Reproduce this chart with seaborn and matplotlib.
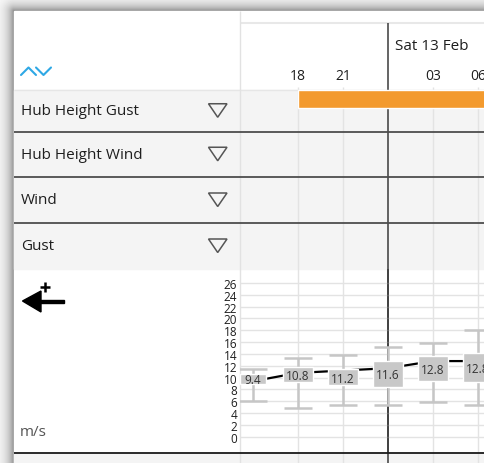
import numpy as np
import matplotlib.pyplot as plt
from matplotlib.patches import Rectangle, Polygon
import seaborn as sns

# forecast columns, hour of day (24 = midnight, Sat 13 Feb)
hours = [15, 18, 21, 24, 27, 30]
wind = [9.4, 10.8, 11.2, 11.6, 12.8, 12.8]
box_low = [8.9, 9.2, 8.7, 8.5, 9.4, 9.2]
box_high = [10.6, 11.8, 11.4, 12.8, 13.6, 14.1]
gust_low = [6.0, 4.9, 5.3, 5.4, 5.8, 5.3]
gust_high = [11.5, 13.4, 13.8, 15.1, 15.9, 18.1]

grid_hours = [18, 21, 27, 30]
hour_labels = ['18', '21', '03', '06']
day_label = 'Sat 13 Feb'
day_start = 24
warning_start = 18
row_names = ['Hub Height Gust', 'Hub Height Wind', 'Wind', 'Gust']
unit = 'm/s'

sns.set_style('white')
plt.rcParams['font.family'] = ['Open Sans', 'DejaVu Sans']

W, H = 485, 464
PX, PY = 14, 12          # panel corner
DIV = 240                # left column / timeline divider
row_edges = [91, 132.5, 178, 224, 270]
CHART_BOTTOM = 453.5
xlim = (15 - 13 / 15, 15 + 232 / 15)   # 15 px per hour

fig = plt.figure(figsize=(W / 100, H / 100), dpi=100)


def px_axes(x0, y0, x1, y1, z):
    ax = fig.add_axes([x0 / W, 1 - y1 / H, (x1 - x0) / W, (y1 - y0) / H], zorder=z)
    ax.patch.set_alpha(0)
    return ax


# background layer (pixel coords)
ax_bg = px_axes(0, 0, W, H, 0)
ax_bg.set_xlim(0, W)
ax_bg.set_ylim(H, 0)
ax_bg.axis('off')
yy, xx = np.mgrid[0:H, 0:W] + 0.5
d = np.hypot(np.clip(PX - xx, 0, None), np.clip(PY - yy, 0, None))
shadow = 1 - 0.45 * np.exp(-d / 7)
ax_bg.imshow(shadow, cmap='gray', vmin=0, vmax=1, extent=(0, W, H, 0),
             aspect='auto', interpolation='nearest')
ax_bg.add_patch(Rectangle((PX, PY), W - PX, H - PY, color='white'))
ax_bg.add_patch(Rectangle((PX, row_edges[0]), W - PX, row_edges[-1] - row_edges[0], color='#f4f4f4'))
ax_bg.add_patch(Rectangle((PX, CHART_BOTTOM), W - PX, H - CHART_BOTTOM, color='#f4f4f4'))
ax_bg.hlines(23.5, DIV, W, color='#e8e8e8', lw=1.5)
ax_bg.hlines(row_edges[0], PX, W, color='#e6e6e6', lw=1)
ax_bg.vlines(DIV, PY, H, color='#e2e2e2', lw=1)

# timeline layer: hours on x, pixels on y
ax_time = px_axes(DIV, PY, W, H, 1)
ax_time.set_xlim(xlim)
ax_time.set_ylim(H, PY)
ax_time.axis('off')
ax_time.vlines(grid_hours, 88, H, color='#e3e3e3', lw=1)
ax_time.vlines(day_start, 24, H, color='#3a3a3a', lw=1.1)
ax_time.barh(100, 40, left=warning_start, height=18, color='#f39a2e', zorder=3)
for h, lab in zip(grid_hours, hour_labels):
    ax_time.text(h, 77, lab, ha='center', va='center', fontsize=10, color='#1e1e1e')
ax_time.text(day_start + 0.5, 47, day_label, ha='left', va='center', fontsize=11, color='#1e1e1e')

# wind chart
ax = px_axes(DIV, row_edges[-1], W, CHART_BOTTOM, 2)
ax.set_xlim(xlim)
ax.set_ylim(-2.66, 28.37)
ax.grid(axis='y', color='#e3e3e3', lw=1)
ax.set_axisbelow(True)
ax.axvline(day_start, color='#3a3a3a', lw=1.1, zorder=1.5)
lo_err = [w - g for w, g in zip(wind, gust_low)]
hi_err = [g - w for w, g in zip(wind, gust_high)]
ax.errorbar(hours, wind, yerr=[lo_err, hi_err], fmt='none', ecolor='#c6c6c6',
            elinewidth=1.8, capsize=10, capthick=1.8, zorder=2)
sns.lineplot(x=hours, y=wind, ax=ax, color='black', linewidth=1.6, zorder=3)
widths = [1.7 if len(f'{v}') == 3 else 1.95 for v in wind]
heights = [hi - lo for lo, hi in zip(box_low, box_high)]
ax.bar(hours, heights, bottom=box_low, width=widths, color='#c8c8c8', zorder=4)
for h, v, lo, hi in zip(hours, wind, box_low, box_high):
    ax.text(h, (lo + hi) / 2 - 0.15, f'{v}', ha='center', va='center', fontsize=8.5,
            color='#333333', zorder=5)
ax.set_yticks(range(0, 27, 2))
ax.set_xticks([])
ax.set_xlabel('')
ax.set_ylabel('')
ax.tick_params(axis='y', length=0, pad=2, labelsize=8.5, labelcolor='#1e1e1e')
for s in ax.spines.values():
    s.set_visible(False)

# foreground layer: row lines, labels, icons
ax_fg = px_axes(0, 0, W, H, 3)
ax_fg.set_xlim(0, W)
ax_fg.set_ylim(H, 0)
ax_fg.axis('off')
ax_fg.hlines(row_edges[1:-1], PX, W, color='#4d4d4d', lw=1.3)
ax_fg.hlines(CHART_BOTTOM, PX, W, color='#1a1a1a', lw=1.3)
for i, name in enumerate(row_names):
    c = (row_edges[i] + row_edges[i + 1]) / 2
    ax_fg.text(21, c, name, ha='left', va='center', fontsize=11, color='#1e1e1e')
    ax_fg.add_patch(Polygon([(208.5, c - 7), (227, c - 7), (217.7, c + 6.5)],
                            closed=True, fill=False, edgecolor='#555555', lw=1.1))

# expand/collapse chevrons
ax_fg.plot([21, 28.5, 36], [76, 68.5, 76], color='#2ea8e5', lw=1.5)
ax_fg.plot([36, 43.5, 51], [68.5, 76, 68.5], color='#2ea8e5', lw=1.5)

# direction arrow
ax_fg.add_patch(Polygon([(22.5, 302), (41, 292), (41, 313)], closed=True, color='black'))
ax_fg.add_patch(Rectangle((38, 300.5), 26.5, 3.5, color='black'))
ax_fg.hlines(287.5, 40.5, 50.5, color='black', lw=1.8)
ax_fg.vlines(45.5, 282.5, 292.5, color='black', lw=1.8)

ax_fg.text(20, 433, unit, ha='left', va='center', fontsize=11, color='#555555')

fig.savefig('out.png', dpi=100)
